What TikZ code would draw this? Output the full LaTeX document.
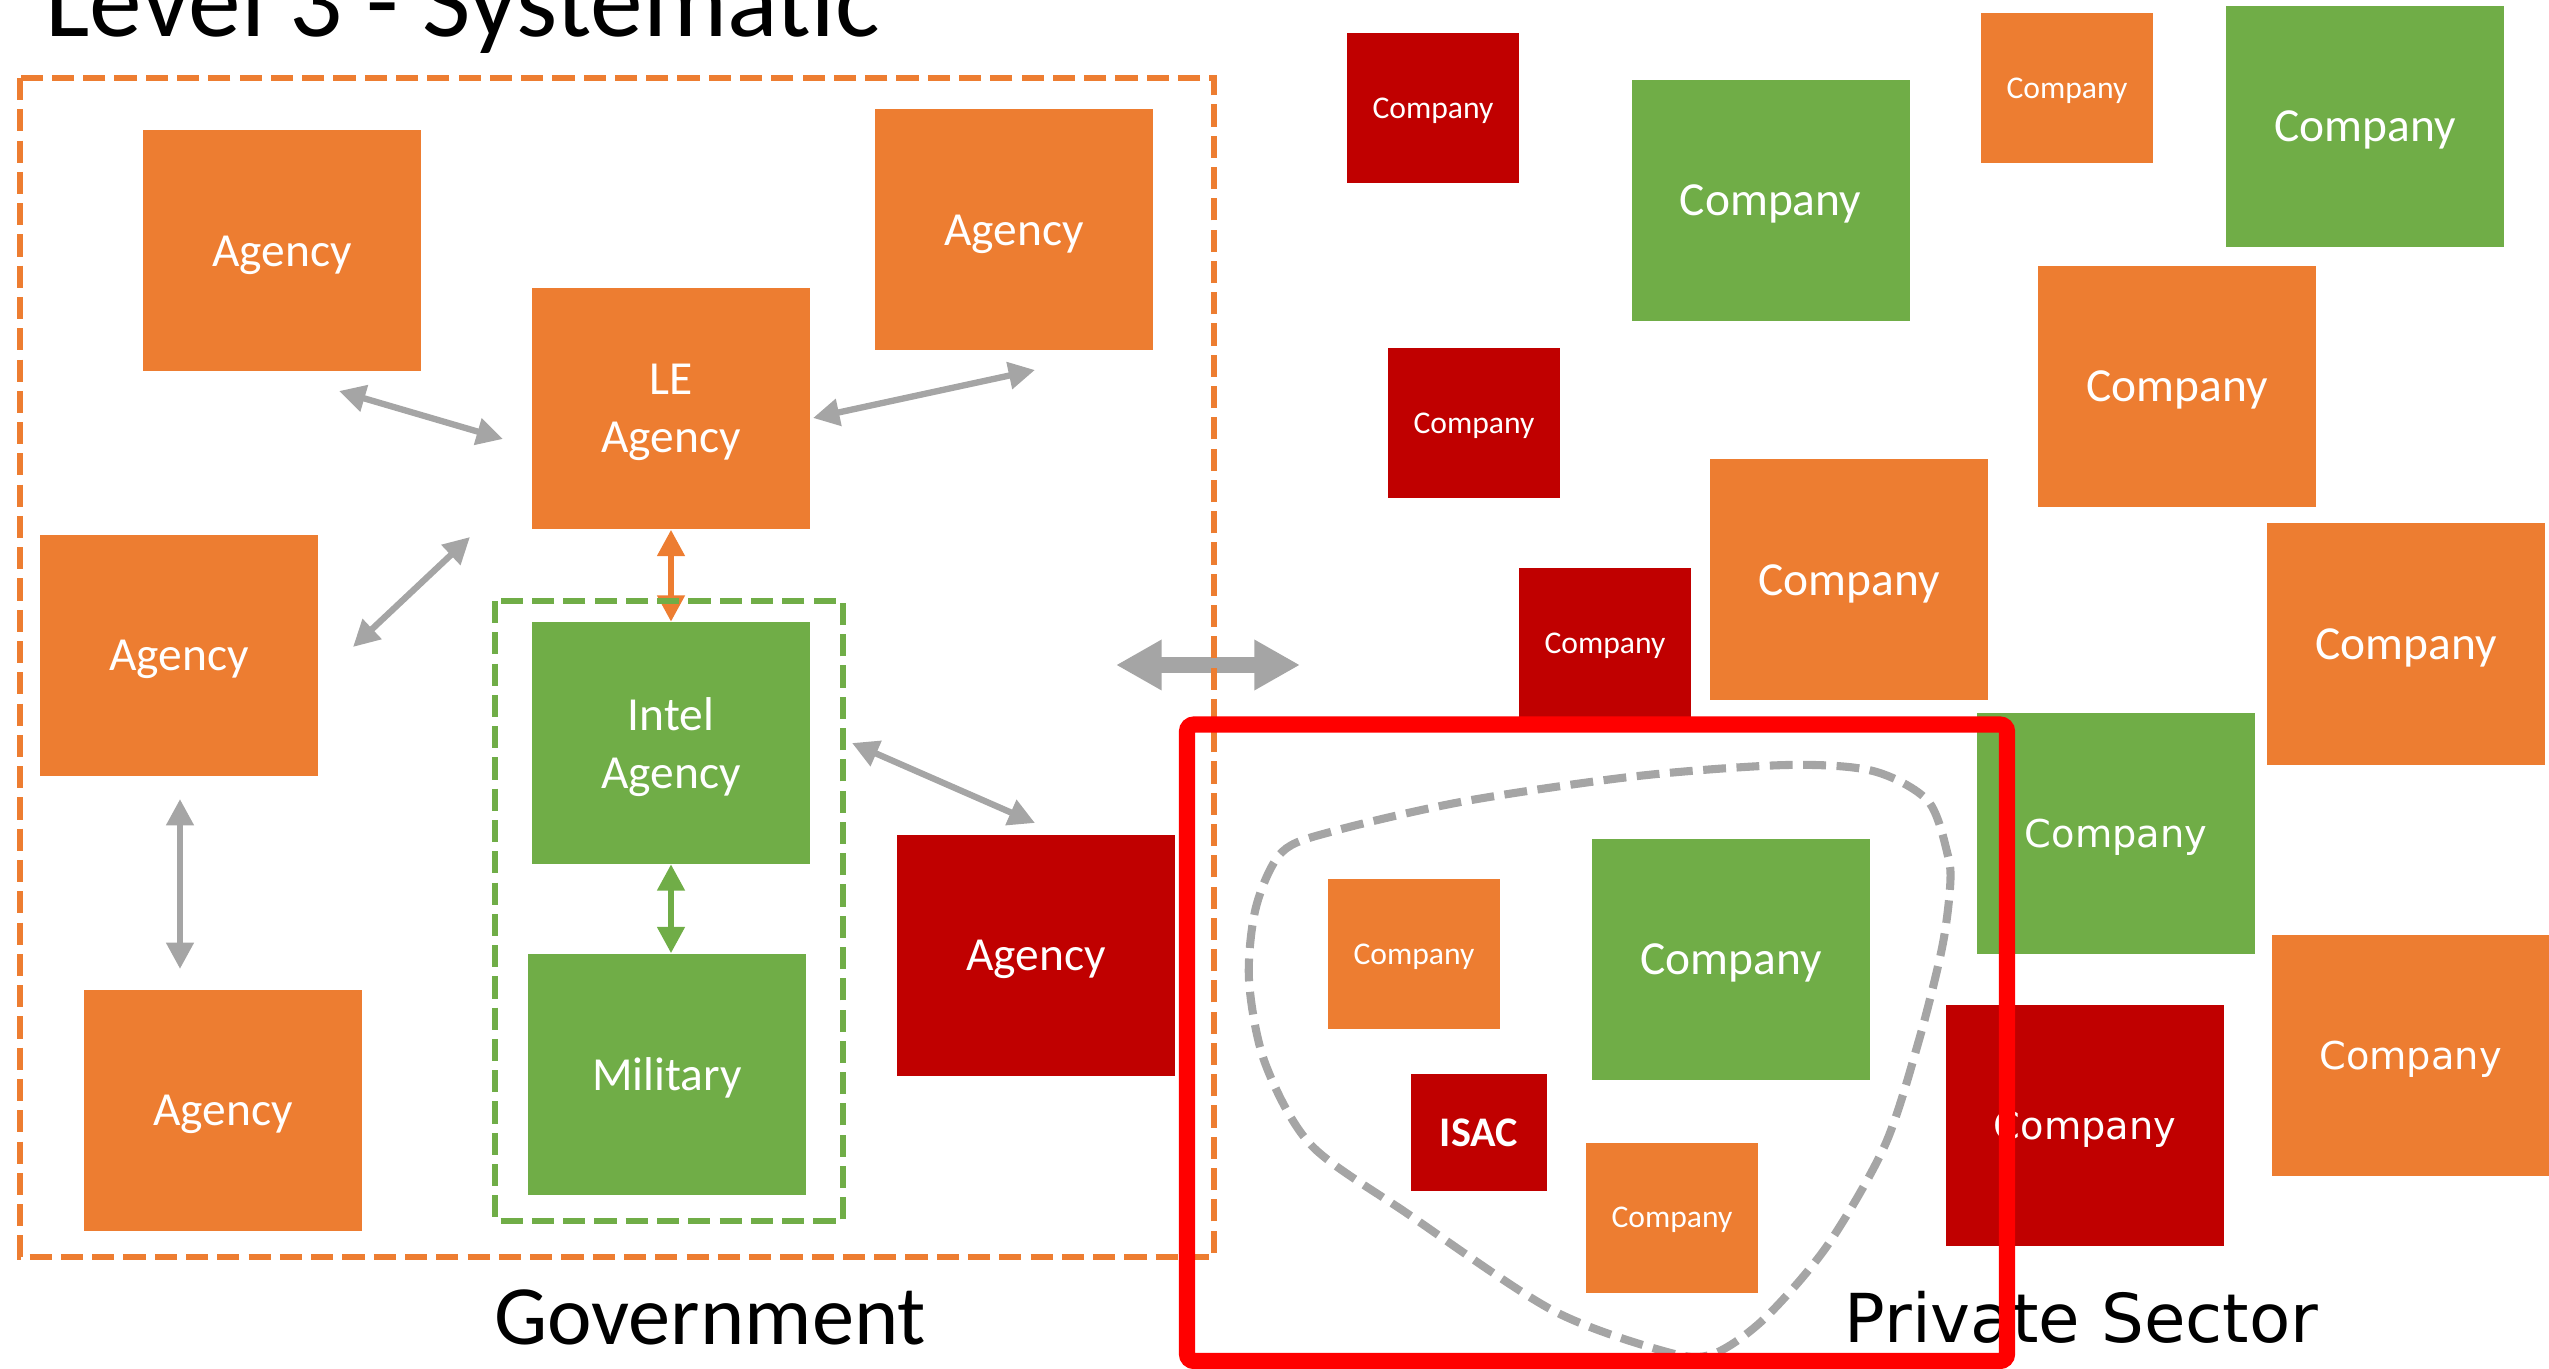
\documentclass[tikz,border=0pt]{standalone}
\usepackage{fontspec}
\setmainfont{Carlito}
\newfontfamily\widefont{DejaVu Sans}
\usepackage{xcolor}
\usepackage{tikz}
\usetikzlibrary{arrows.meta}
\usetikzlibrary{calc}
\usetikzlibrary{positioning}

\definecolor{agorange}{HTML}{ED7D31}
\definecolor{aggreen}{HTML}{70AD47}
\definecolor{agred}{HTML}{C00000}
\definecolor{linkgray}{HTML}{A5A5A5}
\definecolor{framered}{HTML}{FF0000}

\tikzstyle{unit} = [rectangle, inner sep=0pt, text=white, align=center, text depth=0pt]
\tikzstyle{bigunit} = [unit, minimum width=2.78cm, minimum height=2.41cm, font=\fontsize{13.5}{16.5}\selectfont]
\tikzstyle{smallunit} = [unit, minimum width=1.72cm, minimum height=1.50cm, font=\fontsize{9}{11}\selectfont]
\tikzstyle{wideunit} = [bigunit, font=\widefont\fontsize{10.9}{13}\selectfont]
\tikzstyle{link} = [line width=1.8pt, {Triangle[length=7.5pt,width=7.5pt]}-{Triangle[length=7.5pt,width=7.5pt]}]
\tikzstyle{fence} = [line width=1.9pt, dash pattern=on 6.3pt off 2.6pt]

\begin{document}
\begin{tikzpicture}[y=-1cm]

    \useasboundingbox (0,0) rectangle (25.49,13.69); % whole slide

    \node[anchor=base west, inner sep=0pt, font=\fontsize{30}{36}\selectfont] (title)
        at (0.45,0.37) {Level 3 - Systematic};

    % big exchange arrow between the two sides
    \coordinate (GovSide)   at (11.16,6.65);
    \coordinate (PrivSide)  at (13.00,6.65);
    \draw [line width=4.3pt, linkgray, {Triangle[length=13pt,width=13.5pt]}-{Triangle[length=13pt,width=13.5pt]}]
        (GovSide) -- (PrivSide);

    % government agencies
    \node[bigunit, fill=agorange] (agtl) at (2.82,2.51) {Agency};
    \node[bigunit, fill=agorange] (agtr) at (10.14,2.30) {Agency};
    \node[bigunit, fill=agorange] (le)   at (6.71,4.085) {LE\\Agency};
    \node[bigunit, fill=agorange] (agml) at (1.79,6.555) {Agency};
    \node[bigunit, fill=agorange] (agbl) at (2.23,11.105) {Agency};
    \node[bigunit, fill=aggreen] (intel) at (6.71,7.43) {Intel\\Agency};
    \node[bigunit, fill=aggreen] (mil)   at (6.67,10.745) {Military};
    \node[bigunit, fill=agred] (agred)   at (10.36,9.555) {Agency};

    % ends of the links, they stop short of the boxes
    \coordinate (A1) at (3.39,3.91);
    \coordinate (A2) at (5.03,4.39);
    \coordinate (B1) at (8.13,4.18);
    \coordinate (B2) at (10.35,3.70);
    \coordinate (C1) at (3.53,6.47);
    \coordinate (C2) at (4.70,5.37);
    \coordinate (D1) at (1.80,7.99);
    \coordinate (D2) at (1.80,9.69);
    \coordinate (G1) at (8.52,7.43);
    \coordinate (G2) at (10.35,8.23);

    \draw [link, linkgray] (A1) -- (A2);
    \draw [link, linkgray] (B1) -- (B2);
    \draw [link, linkgray] (C1) -- (C2);
    \draw [link, linkgray] (D1) -- (D2);
    \draw [link, linkgray] (G1) -- (G2);
    \draw [link, agorange] (le.south) -- (intel.north);
    \draw [link, aggreen] (intel.south) -- (intel.south |- mil.north);

    \draw [fence, agorange] (0.20,0.78) rectangle (12.14,12.57); % government
    \draw [fence, aggreen]  (4.95,6.01) rectangle (8.43,12.21);  % intel + military

    % private sector companies
    \node[smallunit, fill=agred]    (co1)  at (14.33,1.085) {Company};
    \node[bigunit,   fill=aggreen]  (co2)  at (17.705,2.005) {Company};
    \node[smallunit, fill=agorange] (co3)  at (20.67,0.885) {Company};
    \node[bigunit,   fill=aggreen]  (co4)  at (23.65,1.265) {Company};
    \node[bigunit,   fill=agorange] (co5)  at (21.77,3.865) {Company};
    \node[smallunit, fill=agred]    (co6)  at (14.74,4.23) {Company};
    \node[bigunit,   fill=agorange] (co7)  at (18.49,5.80) {Company};
    \node[smallunit, fill=agred]    (co8)  at (16.05,6.435) {Company};
    \node[bigunit,   fill=agorange] (co9)  at (24.06,6.44) {Company};
    \node[wideunit,  fill=aggreen]  (co10) at (21.16,8.335) {Company};
    \node[wideunit,  fill=agred]    (co11) at (20.85,11.25) {Company};
    \node[wideunit,  fill=agorange] (co12) at (24.105,10.555) {Company};

    % sharing community round the ISAC
    \draw [linkgray, line width=2.3pt, dash pattern=on 6.5pt off 3pt]
        plot [smooth cycle] coordinates {
        (17.87,7.65) (18.73,7.71) (19.28,8.01) (19.48,8.56) (19.50,8.88)
        (19.42,9.48) (19.19,10.40) (18.85,11.45) (18.27,12.46) (17.64,13.19)
        (17.13,13.54) (16.67,13.52) (15.52,13.10) (14.08,12.14) (13.11,11.45)
        (12.65,10.63) (12.49,9.80) (12.56,9.07) (12.82,8.52) (13.34,8.31)
        (14.66,8.01) (16.38,7.76)};

    \node[smallunit, fill=agorange] (mem1) at (14.14,9.54) {Company};
    \node[bigunit,   fill=aggreen]  (mem2) at (17.31,9.59) {Company};
    \node[unit, fill=agred, minimum width=1.36cm, minimum height=1.17cm,
          font=\fontsize{12}{14}\selectfont\bfseries] (isac) at (14.79,11.325) {ISAC};
    \node[smallunit, fill=agorange] (mem3) at (16.72,12.175) {Company};

    % side labels
    \node[anchor=base, inner sep=0pt, font=\fontsize{24}{28}\selectfont] (gov)
        at (7.10,13.44) {Government};
    \node[anchor=base west, inner sep=0pt, font=\widefont\fontsize{19.2}{23}\selectfont] (priv)
        at (18.44,13.42) {Private Sector};

    \draw [framered, line width=4.6pt, rounded corners=2pt] (11.87,7.245) rectangle (20.07,13.61);

\end{tikzpicture}
\end{document}
